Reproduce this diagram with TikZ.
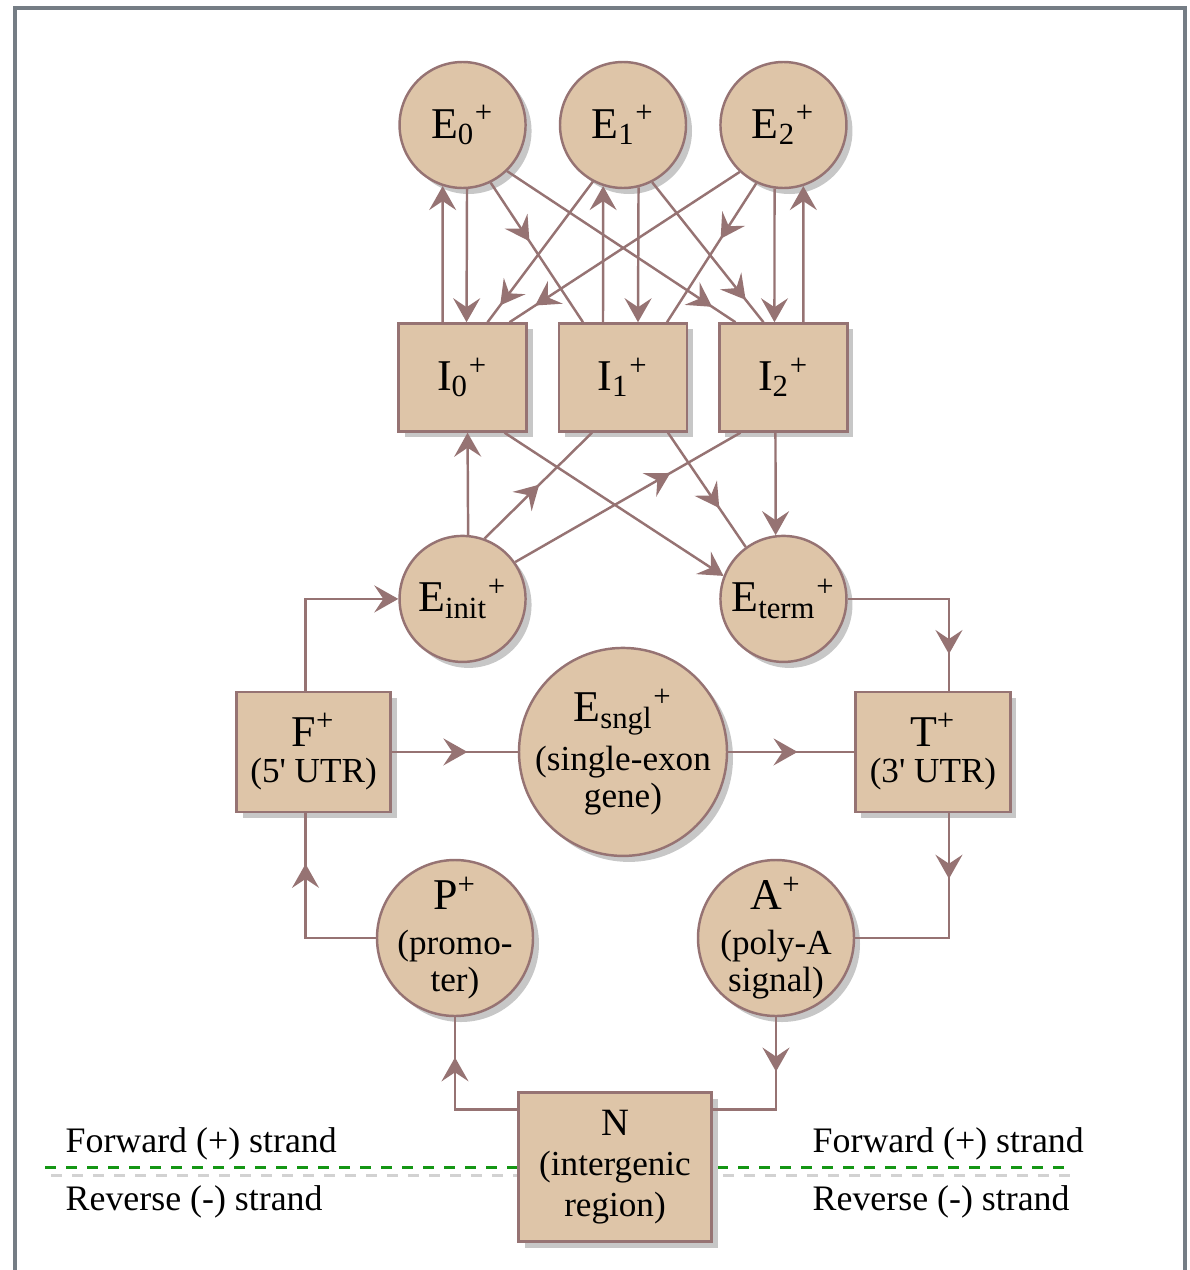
\documentclass[tikz,border=0pt]{standalone}
\usepackage{fontspec}
\setmainfont{Liberation Serif}
\usepackage{xcolor}
\usepackage{tikz}
\usetikzlibrary{shapes,arrows.meta,positioning,shadows,decorations.markings}

\definecolor{statefill}{RGB}{222,197,168}
\definecolor{statedraw}{RGB}{150,115,115}
\definecolor{framegray}{RGB}{117,125,133}
\definecolor{strandgreen}{RGB}{20,150,20}

\begin{document}
\begin{tikzpicture}[
    state/.style={draw=statedraw, fill=statefill, line width=0.7pt, inner sep=0pt, align=center,
        drop shadow={shadow xshift=0.6mm, shadow yshift=-0.6mm, fill=black!22, opacity=1},
        font=\fontsize{10}{10.5}\selectfont},
    circ/.style={state, circle, minimum size=#1},
    box/.style={state, rectangle, minimum width=1.28cm, minimum height=1.08cm},
    big/.style={font=\fontsize{12.5}{14}\selectfont},
    link/.style={color=statedraw, line width=0.7pt},
    tipend/.style={link, -{Stealth[length=2.4mm, width=2.7mm, inset=0.9mm]}},
    tipat/.style={link, postaction={decorate, decoration={markings,
        mark=at position #1 with {\arrow{Stealth[length=2.4mm, width=2.7mm, inset=0.9mm]}}}}},
    strand/.style={line width=0.3mm, dash pattern=on 1.1mm off 1mm},
    side/.style={anchor=base west, inner sep=0pt, font=\fontsize{10.2}{12}\selectfont},
    node distance=0.3cm
]
    \useasboundingbox (0,0) rectangle (11.90,-12.70);
    % Frame
    \draw[framegray, line width=0.4mm] (0.15,-0.08) rectangle (11.85,-13.2);

    % Strand divider
    \coordinate (strandW) at (0.45,-11.67);
    \coordinate (strandE) at (10.68,-11.67);
    \draw[strand, gray!35] ([shift={(0.6mm,-0.8mm)}]strandW) -- ([shift={(0.6mm,-0.8mm)}]strandE);
    \draw[strand, strandgreen] (strandW) -- (strandE);
    \node[side] (fwdW) at (0.65,-11.52) {Forward (+) strand};
    \node[side] (revW) at (0.65,-12.10) {Reverse (-) strand};
    \node[side] (fwdE) at (8.12,-11.52) {Forward (+) strand};
    \node[side] (revE) at (8.12,-12.10) {Reverse (-) strand};

    % Exons
    \node[circ=1.26cm, big] (E1) at (6.23,-1.25) {E\textsubscript{1}\textsuperscript{+}};
    \node[circ=1.26cm, big, left=0.32cm of E1] (E0) {E\textsubscript{0}\textsuperscript{+}};
    \node[circ=1.26cm, big, right=0.32cm of E1] (E2) {E\textsubscript{2}\textsuperscript{+}};

    % Introns
    \node[box, big, below=1.33cm of E1] (I1) {I\textsubscript{1}\textsuperscript{+}};
    \node[box, big, left=0.3cm of I1] (I0) {I\textsubscript{0}\textsuperscript{+}};
    \node[box, big, right=0.3cm of I1] (I2) {I\textsubscript{2}\textsuperscript{+}};

    % Initial and terminal exons
    \node[circ=1.26cm, big, below=1.02cm of I0] (Einit) {E\textsubscript{init}\textsuperscript{+}};
    \node[circ=1.26cm, big, below=1.02cm of I2] (Eterm) {E\textsubscript{term}\textsuperscript{+}};

    % Single exon, UTRs
    \node[circ=2.08cm, inner sep=-2pt, below=2.14cm of I1] (Esngl) {{\fontsize{12.5}{14}\selectfont E\textsubscript{sngl}\textsuperscript{+}}\\[0.8mm]
        (single-exon\\gene)};
    \node[box, minimum width=1.54cm, minimum height=1.2cm, left=1.26cm of Esngl] (F) {{\fontsize{12.5}{14}\selectfont F\textsuperscript{+}}\\
        (5\textquotesingle{} UTR)};
    \node[box, minimum width=1.55cm, minimum height=1.2cm, right=1.26cm of Esngl] (T) {{\fontsize{12.5}{14}\selectfont T\textsuperscript{+}}\\
        (3\textquotesingle{} UTR)};

    % Promoter, poly-A, intergenic
    \node[circ=1.56cm, inner sep=-2.5pt] (P) at (4.55,-9.38) {{\fontsize{12.5}{14}\selectfont P\textsuperscript{+}}\\[0.8mm]
        (promo-\\ter)};
    \node[circ=1.56cm, inner sep=-2.5pt] (A) at (7.76,-9.38) {{\fontsize{12.5}{14}\selectfont A\textsuperscript{+}}\\[0.8mm]
        (poly-A\\signal)};
    \node[box, minimum width=1.93cm, minimum height=1.49cm, font=\fontsize{10}{11.5}\selectfont] (N) at (6.15,-11.67) {{\fontsize{11}{12}\selectfont N}\\
        (intergenic\\region)};

    % Exon <-> intron
    \draw[tipend] ([xshift=-2mm]I0.north) -- (E0.-108);
    \draw[tipend] (E0.-86) -- ([xshift=0.4mm]I0.north);
    \draw[tipend] ([xshift=-2mm]I1.north) -- (E1.-108);
    \draw[tipend] (E1.-76) -- ([xshift=1.5mm]I1.north);
    \draw[tipend] (E2.-98) -- ([xshift=-0.9mm]I2.north);
    \draw[tipend] ([xshift=2mm]I2.north) -- (E2.-72);
    \draw[tipat=0.42] (E0.-64) -- ([xshift=-4mm]I1.north);
    \draw[tipat=0.9] (E0.-46) -- ([xshift=-4.8mm]I2.north);
    \draw[tipat=0.88] (E1.-118) -- ([xshift=2.5mm]I0.north);
    \draw[tipat=0.89] (E2.-133) -- ([xshift=4.7mm]I0.north);
    \draw[tipat=0.84] (E1.-63) -- ([xshift=-2mm]I2.north);
    \draw[tipat=0.4] (E2.-115) -- ([xshift=4.4mm]I1.north);

    % Into and out of introns
    \draw[tipend] (Einit.85) -- ([xshift=0.5mm]I0.south);
    \draw[tipat=0.51] (Einit.70) -- ([xshift=-3.1mm]I1.south);
    \draw[tipat=0.69] (Einit.35) -- ([xshift=-4.3mm]I2.south);
    \draw[tipend] ([xshift=4.2mm]I0.south) -- (Eterm.159);
    \draw[tipat=0.66] ([xshift=4.5mm]I1.south) -- (Eterm.126);
    \draw[tipend] ([xshift=-0.8mm]I2.south) -- (Eterm.97);

    % Gene borders
    \draw[tipend] ([xshift=-0.8mm]F.north) |- (Einit.west);
    \draw[tipat=0.81] (Eterm.east) -| ([xshift=1.6mm]T.north);
    \draw[tipat=0.6] (F.east) -- (Esngl.west);
    \draw[tipat=0.55] (Esngl.east) -- (T.west);
    \draw[tipat=0.3] ([xshift=1.6mm]T.south) |- (A.east);
    \draw[tipat=0.74] (P.west) -| ([xshift=-0.8mm]F.south);
    \draw[tipat=0.74] ([yshift=-1.8mm]N.north west) -| (P.south);
    \draw[tipat=0.35] (A.south) |- ([yshift=-1.8mm]N.north east);
\end{tikzpicture}
\end{document}
